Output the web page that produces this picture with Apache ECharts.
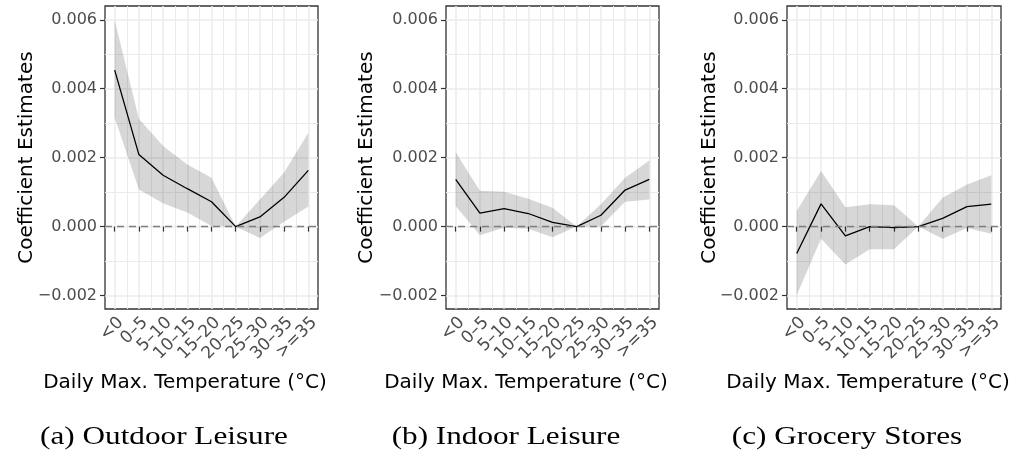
<!DOCTYPE html>
<html>
<head>
<meta charset="utf-8">
<script src="https://cdn.jsdelivr.net/npm/echarts@6/dist/echarts.min.js"></script>
<style>
  html, body { margin: 0; padding: 0; background: #ffffff; }
  #chart { width: 1017px; height: 453px; }
</style>
</head>
<body>
<div id="chart"></div>
<script>
// Temperature bins (daily maximum, °C)
const categories = ['<0', '0–5', '5–10', '10–15', '15–20', '20–25', '25–30', '30–35', '>=35'];

// Outdoor leisure: point estimates and 95% interval bounds
const outdoorEst   = [0.00454, 0.00209, 0.00149, 0.00110, 0.00072, 0, 0.00028, 0.00085, 0.00163];
const outdoorUpper = [0.00599, 0.00313, 0.00234, 0.00180, 0.00142, 0, 0.00079, 0.00157, 0.00272];
const outdoorLower = [0.00316, 0.00108, 0.00068, 0.00041, 0.00002, 0, -0.00033, 0.00014, 0.00058];

// Indoor leisure
const indoorEst   = [0.00137, 0.00039, 0.00052, 0.00038, 0.00012, 0, 0.00033, 0.00106, 0.00137];
const indoorUpper = [0.00216, 0.00104, 0.00101, 0.00081, 0.00055, 0, 0.00065, 0.00142, 0.00192];
const indoorLower = [0.00060, -0.00025, -0.00003, -0.00006, -0.00031, 0, 0.00000, 0.00072, 0.00079];

// Grocery stores
const groceryEst   = [-0.00078, 0.00066, -0.00027, 0.00000, -0.00003, 0, 0.00024, 0.00058, 0.00065];
const groceryUpper = [0.00045, 0.00161, 0.00056, 0.00065, 0.00062, 0, 0.00084, 0.00122, 0.00149];
const groceryLower = [-0.00199, -0.00035, -0.00110, -0.00066, -0.00066, 0, -0.00035, -0.00004, -0.00021];

// Axis breaks
const yMajorTicks = [-0.002, 0, 0.002, 0.004, 0.006];
const yMinorTicks = [-0.001, 0.001, 0.003, 0.005];

// Captions and titles
const captions = ['(a) Outdoor Leisure', '(b) Indoor Leisure', '(c) Grocery Stores'];
const xTitle = 'Daily Max. Temperature (°C)';
const yTitle = 'Coefficient Estimates';

const panels = [
  { est: outdoorEst, upper: outdoorUpper, lower: outdoorLower, left: 105, width: 213, yTitleX: 27,  xTitleX: 185, capX: 164 },
  { est: indoorEst,  upper: indoorUpper,  lower: indoorLower,  left: 446, width: 213, yTitleX: 367, xTitleX: 526, capX: 506 },
  { est: groceryEst, upper: groceryUpper, lower: groceryLower, left: 787, width: 214, yTitleX: 710, xTitleX: 868, capX: 847 }
];

const xPositions = categories.map((c, i) => i + 1);
const xMinorTicks = xPositions.slice(0, -1).map(v => v + 0.5);
const X_MIN = 0.6, X_MAX = categories.length + 0.4;
const Y_MIN = -0.00239, Y_MAX = 0.0064;
const PLOT_TOP = 6, PLOT_HEIGHT = 303;

const tickColor = '#4d4d4d';
const gridColor = '#ebebeb';

const grids = [], xAxes = [], yAxes = [], series = [], graphics = [];

panels.forEach((p, k) => {
  grids.push({
    left: p.left, top: PLOT_TOP, width: p.width, height: PLOT_HEIGHT,
    show: true, borderColor: '#333333', borderWidth: 1.3, backgroundColor: '#ffffff'
  });

  // major x breaks: ticks, labels and thicker grid lines
  xAxes.push({
    type: 'value', gridIndex: k, min: X_MIN, max: X_MAX, position: 'bottom',
    axisLine: { show: false },
    axisTick: { show: true, length: 5, customValues: xPositions, lineStyle: { color: '#333333', width: 1.2 } },
    axisLabel: {
      customValues: xPositions, rotate: 45, margin: 5, verticalAlign: 'top',
      fontFamily: 'DejaVu Sans', fontSize: 17, color: tickColor,
      formatter: v => categories[Math.round(v) - 1]
    },
    splitLine: { show: true, lineStyle: { color: gridColor, width: 1.5 } }
  });
  // minor x breaks: thinner grid lines only
  xAxes.push({
    type: 'value', gridIndex: k, min: X_MIN, max: X_MAX, position: 'top',
    axisLine: { show: false },
    axisTick: { show: false, customValues: xMinorTicks },
    axisLabel: { show: false },
    splitLine: { show: true, lineStyle: { color: gridColor, width: 1 } }
  });

  yAxes.push({
    type: 'value', gridIndex: k, min: Y_MIN, max: Y_MAX, position: 'left',
    axisLine: { show: false },
    axisTick: { show: true, length: 5, customValues: yMajorTicks, lineStyle: { color: '#333333', width: 1.2 } },
    axisLabel: {
      customValues: yMajorTicks, margin: 8,
      fontFamily: 'DejaVu Sans', fontSize: 16, color: tickColor,
      formatter: v => v.toFixed(3).replace('-', '\u2212')
    },
    splitLine: { show: true, lineStyle: { color: gridColor, width: 1.5 } }
  });
  yAxes.push({
    type: 'value', gridIndex: k, min: Y_MIN, max: Y_MAX, position: 'right',
    axisLine: { show: false },
    axisTick: { show: false, customValues: yMinorTicks },
    axisLabel: { show: false },
    splitLine: { show: true, lineStyle: { color: gridColor, width: 1 } }
  });

  const xi = 2 * k, yi = 2 * k;

  // confidence band drawn as one polygon through the axis scales
  const band = p.lower.map((lo, i) => [xPositions[i], lo, p.upper[i]]);
  series.push({
    type: 'custom', xAxisIndex: xi, yAxisIndex: yi, silent: true, z: 2,
    data: band,
    encode: { x: 0, y: [1, 2] },
    renderItem: (params, api) => {
      if (params.dataIndex !== 0) return null;
      const top = band.map(d => api.coord([d[0], d[2]]));
      const bottom = band.map(d => api.coord([d[0], d[1]])).reverse();
      return {
        type: 'polygon',
        shape: { points: top.concat(bottom) },
        style: { fill: 'rgba(0,0,0,0.155)', stroke: null }
      };
    }
  });

  // point estimates with reference line at zero
  series.push({
    type: 'line', xAxisIndex: xi, yAxisIndex: yi,
    data: p.est.map((v, i) => [xPositions[i], v]),
    symbol: 'none', lineStyle: { color: '#000000', width: 1.3 }, z: 4,
    markLine: {
      silent: true, symbol: 'none', label: { show: false },
      lineStyle: { color: '#7f7f7f', width: 1.4, type: [7, 5] },
      data: [{ yAxis: 0 }]
    }
  });

  graphics.push({
    type: 'text', x: p.yTitleX, y: PLOT_TOP + PLOT_HEIGHT / 2, rotation: Math.PI / 2,
    style: { text: yTitle, fontFamily: 'DejaVu Sans', fontSize: 20, fill: '#000000', align: 'center', verticalAlign: 'middle' }
  });
  graphics.push({
    type: 'text', x: p.xTitleX, y: 383,
    style: { text: xTitle, fontFamily: 'DejaVu Sans', fontSize: 20, fill: '#000000', align: 'center', verticalAlign: 'middle' }
  });
  graphics.push({
    type: 'text', x: p.capX, y: 437, scaleX: 1.2,
    style: { text: captions[k], fontFamily: 'Liberation Serif', fontSize: 26, fill: '#000000', align: 'center', verticalAlign: 'middle' }
  });
});

const chart = echarts.init(document.getElementById('chart'), null, { renderer: 'canvas' });
chart.setOption({
  animation: false,
  backgroundColor: '#ffffff',
  grid: grids,
  xAxis: xAxes,
  yAxis: yAxes,
  series: series,
  graphic: graphics
});
</script>
</body>
</html>
